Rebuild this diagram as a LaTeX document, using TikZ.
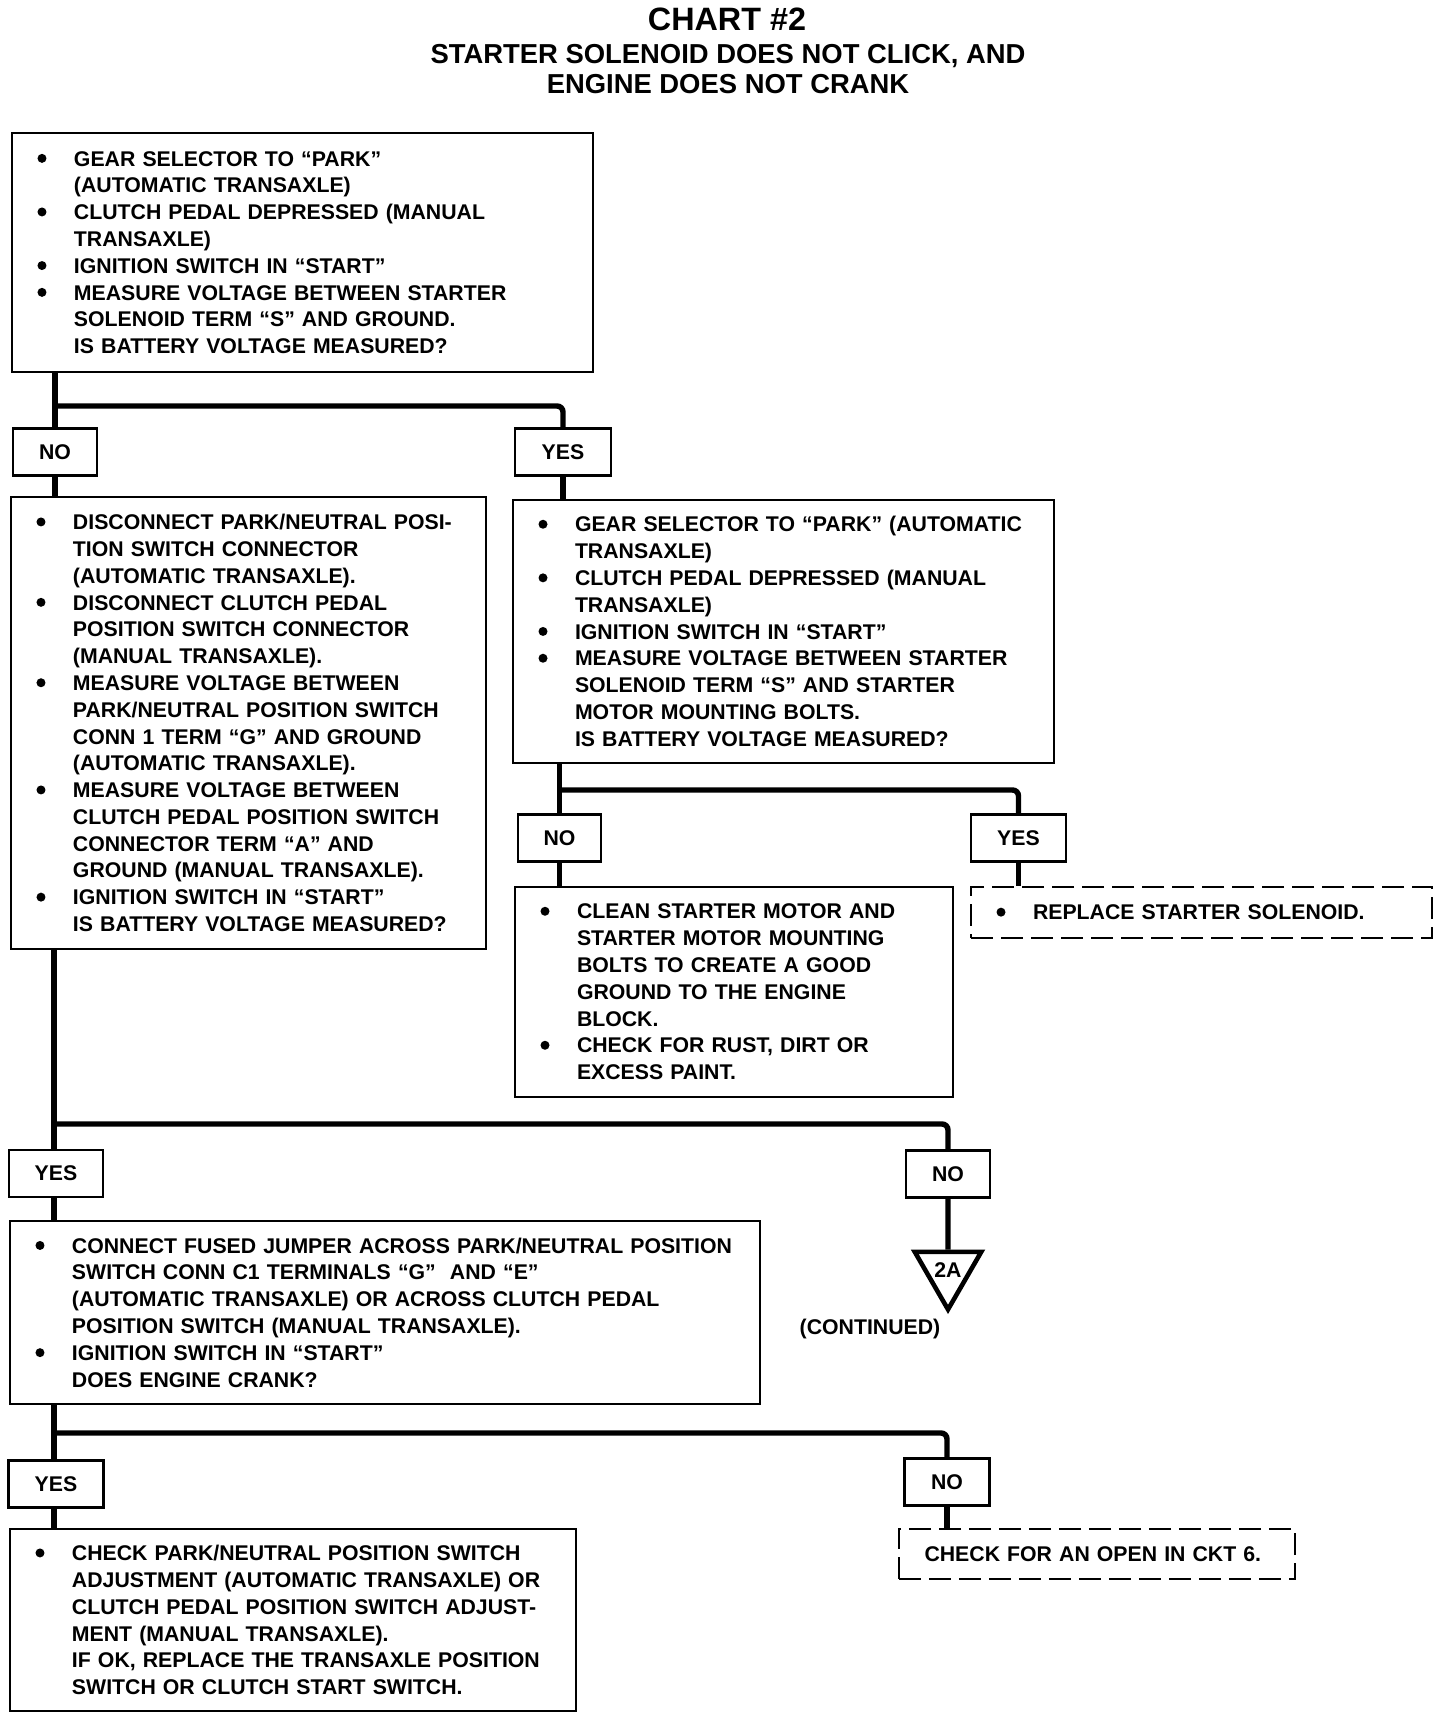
\documentclass[tikz,border=0pt]{standalone}
\usepackage{fontspec}
\setmainfont{Liberation Sans}
\usepackage{tikz}
\usetikzlibrary{shapes.geometric}

\newcommand{\bodyfnt}{\fontsize{12.1}{15.25}\selectfont\bfseries}
\newcommand{\bul}{\makebox[8mm][l]{\hspace{0.7mm}\tikz[baseline=-0.36em]\fill (0,0) circle (0.9mm);}}
\newcommand{\cnt}{\hspace*{8mm}}

\tikzset{
  box/.style={rectangle, draw, line width=1.4pt, inner xsep=4.4mm,
    inner ysep=0pt, align=left, font=\bodyfnt},
  dashbox/.style={box, dash pattern=on 4.4mm off 1.6mm},
  answer/.style={rectangle, draw, line width=1.4pt, inner sep=0pt,
    minimum height=9.4mm, font=\bodyfnt},
  conn/.style={line width=3.1pt},
  offpage/.style={regular polygon, regular polygon sides=3,
    shape border rotate=180, draw, line width=2.6pt,
    minimum size=12.4mm, inner sep=0pt, font=\bodyfnt}
}

\begin{document}
\begin{tikzpicture}[x=0.2mm, y=-0.2mm]
  \useasboundingbox (0,0) rectangle (1440,1720);

  % Heading
  \node[font=\fontsize{18.4}{20}\selectfont\bfseries] (chart) at (727,19) {CHART \#2};
  \node[font=\fontsize{15.6}{17.1}\selectfont\bfseries, align=center] (subj) at (728,69)
    {STARTER SOLENOID DOES NOT CLICK, AND\\ENGINE DOES NOT CRANK};

  % First check
  \node[box, text width=107.4mm, minimum height=47.8mm] (q1) at (302.5,252.5)
    {\bul GEAR SELECTOR TO “PARK”\\
     \cnt (AUTOMATIC TRANSAXLE)\\
     \bul CLUTCH PEDAL DEPRESSED (MANUAL\\
     \cnt TRANSAXLE)\\
     \bul IGNITION SWITCH IN “START”\\
     \bul MEASURE VOLTAGE BETWEEN STARTER\\
     \cnt SOLENOID TERM “S” AND GROUND.\\
     \cnt IS BATTERY VOLTAGE MEASURED?};
  \node[answer, minimum width=16.8mm] (no1) at (55,452) {NO};
  \node[answer, minimum width=19.2mm] (yes1) at (563,452) {YES};

  % NO branch: switch circuit
  \node[box, text width=86.2mm, minimum height=90.4mm] (l2) at (248.5,723)
    {\bul DISCONNECT PARK/NEUTRAL POSI-\\
     \cnt TION SWITCH CONNECTOR\\
     \cnt (AUTOMATIC TRANSAXLE).\\
     \bul DISCONNECT CLUTCH PEDAL\\
     \cnt POSITION SWITCH CONNECTOR\\
     \cnt (MANUAL TRANSAXLE).\\
     \bul MEASURE VOLTAGE BETWEEN\\
     \cnt PARK/NEUTRAL POSITION SWITCH\\
     \cnt CONN 1 TERM “G” AND GROUND\\
     \cnt (AUTOMATIC TRANSAXLE).\\
     \bul MEASURE VOLTAGE BETWEEN\\
     \cnt CLUTCH PEDAL POSITION SWITCH\\
     \cnt CONNECTOR TERM “A” AND\\
     \cnt GROUND (MANUAL TRANSAXLE).\\
     \bul IGNITION SWITCH IN “START”\\
     \cnt IS BATTERY VOLTAGE MEASURED?};

  % YES branch: ground circuit
  \node[box, text width=99.4mm, minimum height=52.6mm] (r2) at (783.5,631.5)
    {\bul GEAR SELECTOR TO “PARK” (AUTOMATIC\\
     \cnt TRANSAXLE)\\
     \bul CLUTCH PEDAL DEPRESSED (MANUAL\\
     \cnt TRANSAXLE)\\
     \bul IGNITION SWITCH IN “START”\\
     \bul MEASURE VOLTAGE BETWEEN STARTER\\
     \cnt SOLENOID TERM “S” AND STARTER\\
     \cnt MOTOR MOUNTING BOLTS.\\
     \cnt IS BATTERY VOLTAGE MEASURED?};
  \node[answer, minimum width=16.6mm] (no2) at (559.5,838) {NO};
  \node[answer, minimum width=19mm] (yes2) at (1018.5,838) {YES};
  \node[box, text width=78.8mm, minimum height=42mm] (r3) at (734,992)
    {\bul CLEAN STARTER MOTOR AND\\
     \cnt STARTER MOTOR MOUNTING\\
     \cnt BOLTS TO CREATE A GOOD\\
     \cnt GROUND TO THE ENGINE\\
     \cnt BLOCK.\\
     \bul CHECK FOR RUST, DIRT OR\\
     \cnt EXCESS PAINT.};
  \node[dashbox, text width=83.4mm, minimum height=10.2mm] (rep) at (1201.5,912.5)
    {\bul REPLACE STARTER SOLENOID.};

  % Jumper test
  \node[answer, minimum width=18.8mm] (yes3) at (56,1173.5) {YES};
  \node[answer, minimum width=16.8mm] (no3) at (948,1174) {NO};
  \node[offpage] (cont2a) at (948,1271) {\raisebox{0.5mm}{2A}};
  \node[font=\bodyfnt] (contd) at (870,1329) {(CONTINUED)};
  \node[box, text width=141.2mm, minimum height=36.6mm] (l4) at (385,1312.5)
    {\bul CONNECT FUSED JUMPER ACROSS PARK/NEUTRAL POSITION\\
     \cnt SWITCH CONN C1 TERMINALS “G”\ \ AND “E”\\
     \cnt (AUTOMATIC TRANSAXLE) OR ACROSS CLUTCH PEDAL\\
     \cnt POSITION SWITCH (MANUAL TRANSAXLE).\\
     \bul IGNITION SWITCH IN “START”\\
     \cnt DOES ENGINE CRANK?};

  % Final actions
  \node[answer, minimum width=19mm] (yes5) at (56,1484) {YES};
  \node[answer, minimum width=17mm] (no5) at (947,1482) {NO};
  \node[box, text width=104.4mm, minimum height=36.4mm] (l6) at (293,1620)
    {\bul CHECK PARK/NEUTRAL POSITION SWITCH\\
     \cnt ADJUSTMENT (AUTOMATIC TRANSAXLE) OR\\
     \cnt CLUTCH PEDAL POSITION SWITCH ADJUST-\\
     \cnt MENT (MANUAL TRANSAXLE).\\
     \cnt IF OK, REPLACE THE TRANSAXLE POSITION\\
     \cnt SWITCH OR CLUTCH START SWITCH.};
  \node[dashbox, text width=70.4mm, minimum height=10mm] (chk) at (1097,1554)
    {\hspace*{0.7mm}CHECK FOR AN OPEN IN CKT 6.};

  % Connectors
  \coordinate (s1) at (55,406);
  \coordinate (s2) at (559.5,790);
  \coordinate (s3) at (54,1124);
  \coordinate (s4) at (54,1433);
  \draw[conn] (q1.south -| no1) -- (no1.north);
  \draw[conn, rounded corners=1.2mm] (s1) -| (yes1.north);
  \draw[conn] (no1.south) -- (no1.south |- l2.north);
  \draw[conn] (yes1.south) -- (yes1.south |- r2.north);

  \draw[conn] (r2.south -| no2) -- (no2.north);
  \draw[conn, rounded corners=1.2mm] (s2) -| (yes2.north);
  \draw[conn] (no2.south) -- (no2.south |- r3.north);
  \draw[conn] (yes2.south) -- (yes2.south |- rep.north);

  \draw[conn] (l2.south -| s3) -- (yes3.north -| s3);
  \draw[conn, rounded corners=1.2mm] (s3) -| (no3.north);
  \draw[conn] (yes3.south -| s3) -- (l4.north -| s3);
  \draw[conn] (no3.south) -- (cont2a.north);

  \draw[conn] (l4.south -| s4) -- (yes5.north -| s4);
  \draw[conn, rounded corners=1.2mm] (s4) -| (no5.north);
  \draw[conn] (yes5.south -| s4) -- (l6.north -| s4);
  \draw[conn] (no5.south) -- (no5.south |- chk.north);
\end{tikzpicture}
\end{document}
